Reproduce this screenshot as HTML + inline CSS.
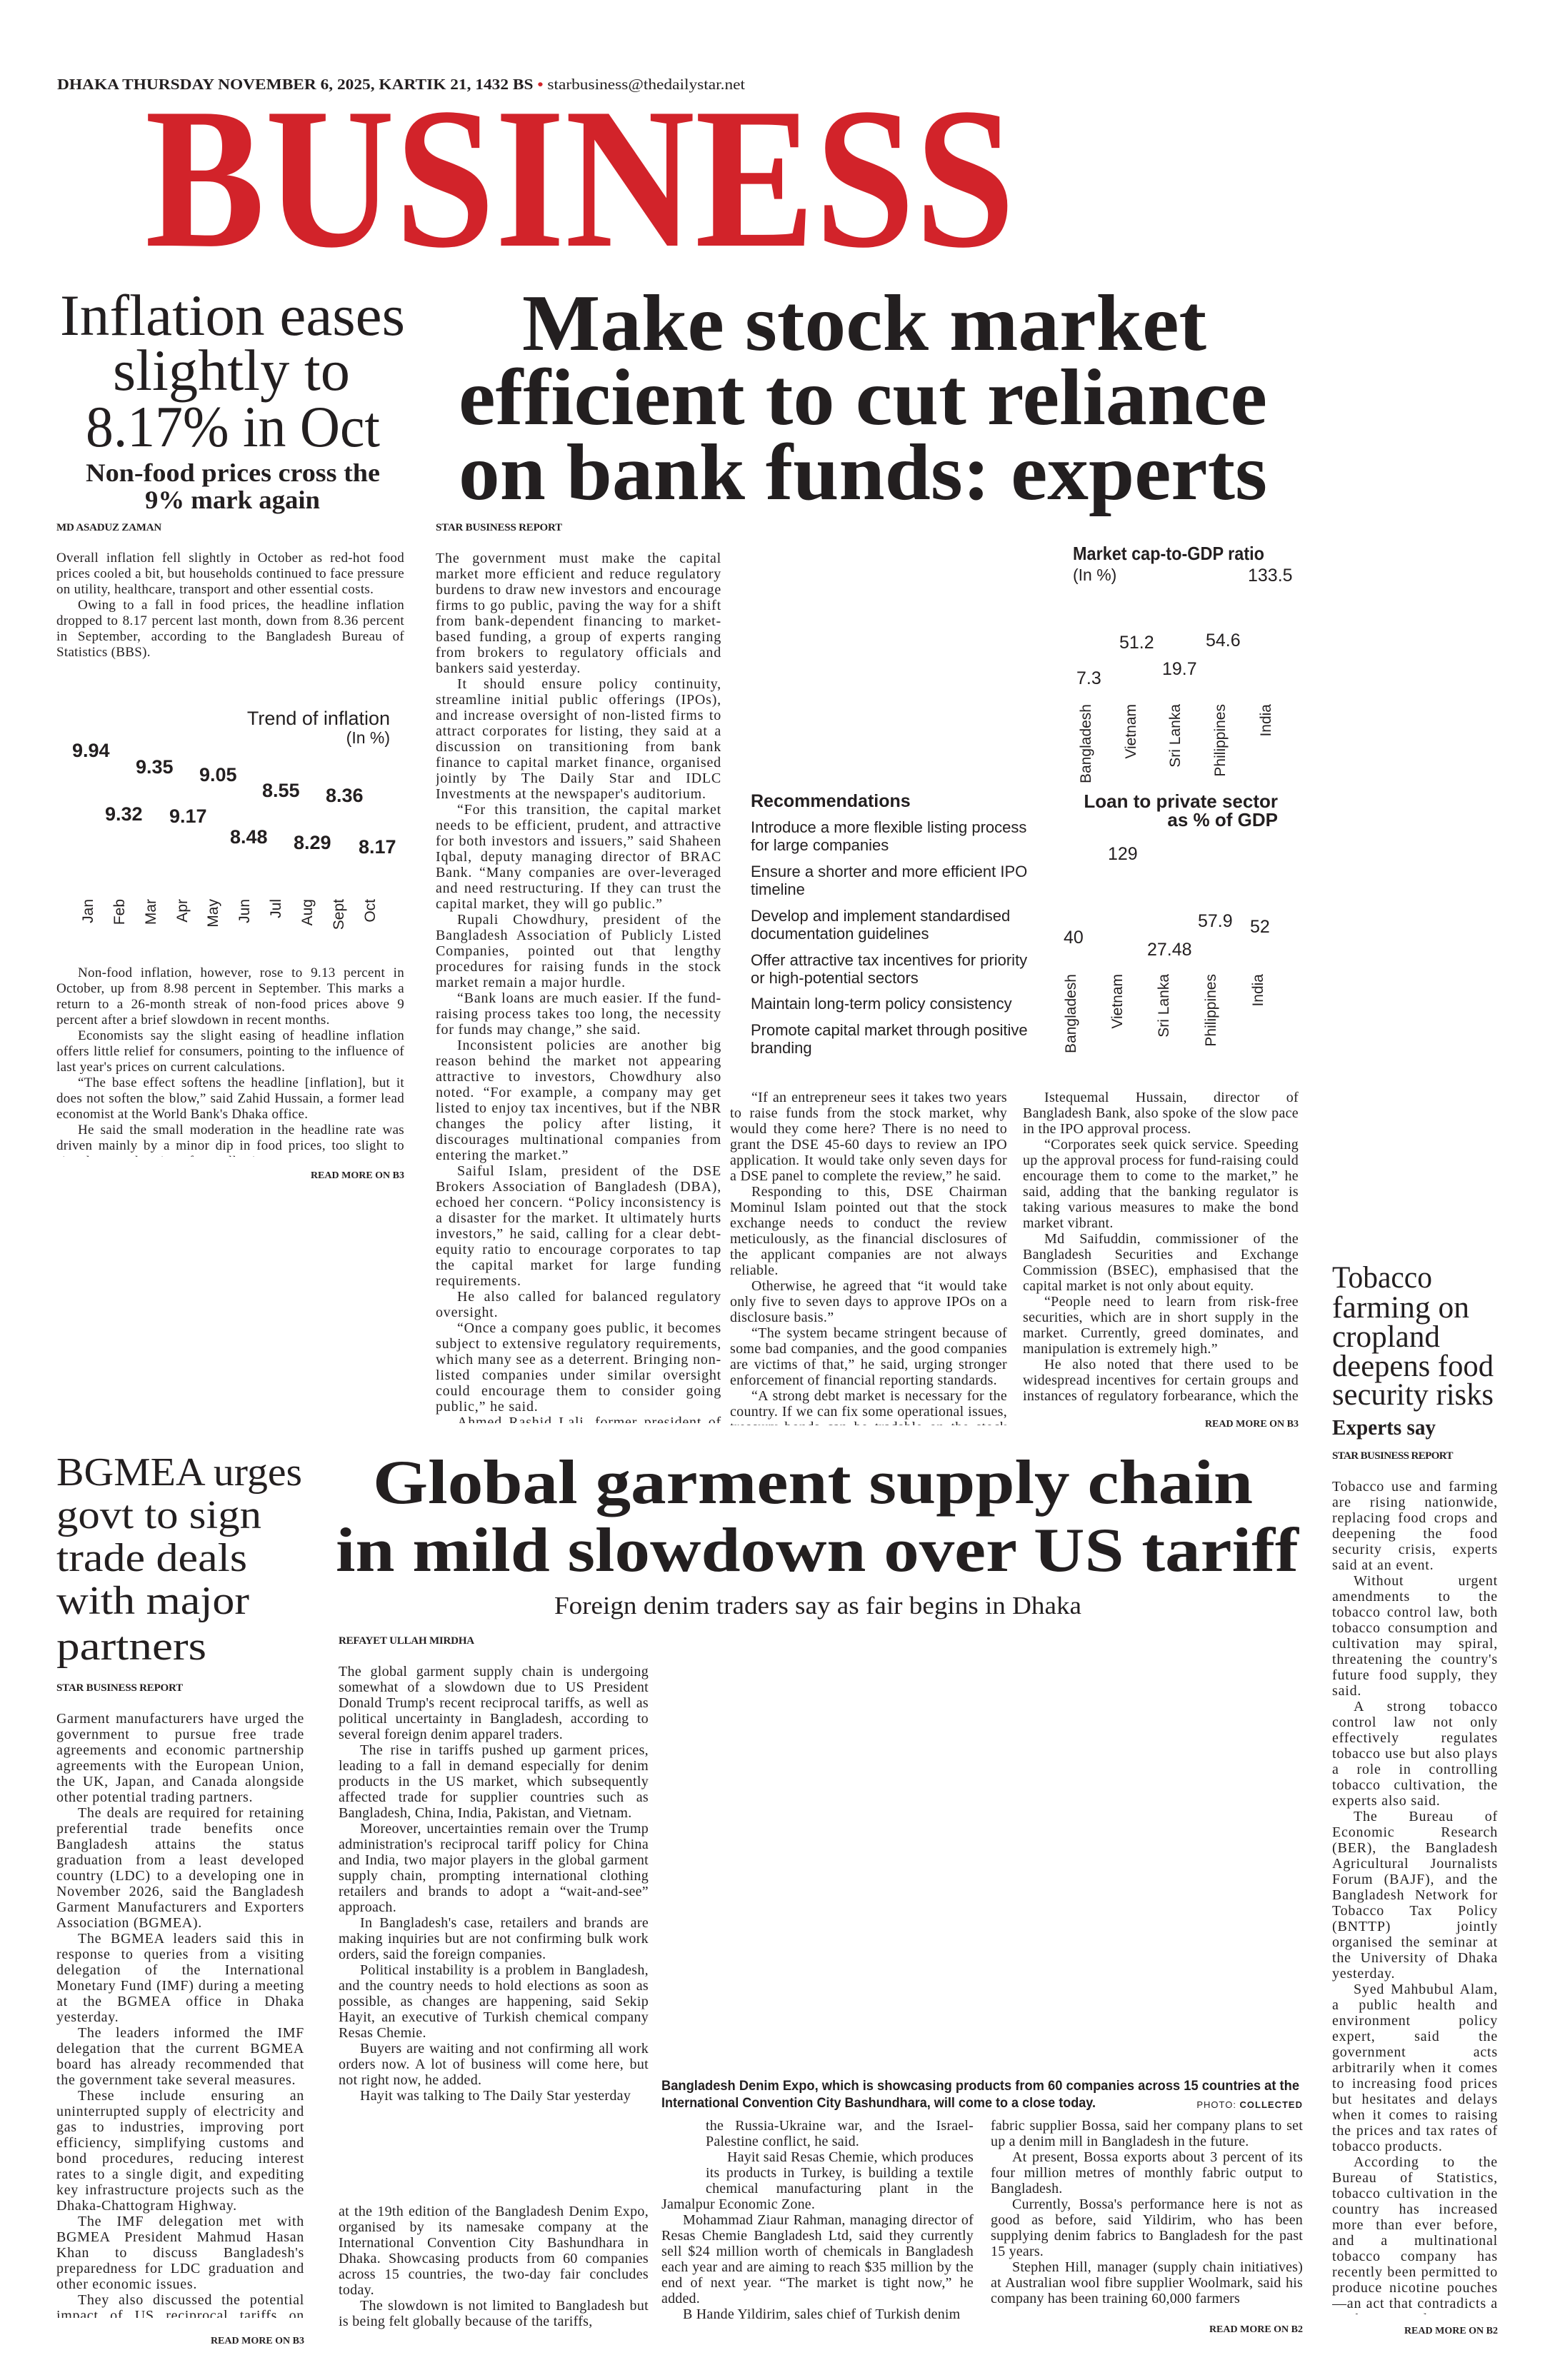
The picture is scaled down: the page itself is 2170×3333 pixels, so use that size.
<!DOCTYPE html>
<html><head><meta charset="utf-8">
<style>
html,body{margin:0;padding:0;background:#fff;}
body{width:2170px;height:3333px;position:relative;overflow:hidden;color:#231f20;font-family:"Liberation Serif",serif;}
.a{position:absolute;}
.fit{position:absolute;white-space:nowrap;line-height:1;}
.fit span{display:inline-block;transform-origin:0 0;}
.txt{position:absolute;font-family:"Liberation Serif",serif;font-size:20px;line-height:22px;text-align:justify;overflow:hidden;color:#231f20;}
.txt p{margin:0;text-indent:30px;}
.txt p.ni{text-indent:0;}
.by{position:absolute;font-family:"Liberation Serif",serif;font-weight:bold;font-size:15px;line-height:1;letter-spacing:-0.2px;}
.rm{position:absolute;font-family:"Liberation Serif",serif;font-weight:bold;font-size:14px;line-height:1;text-align:right;}
.sn{font-family:"Liberation Sans Narrow","Liberation Sans",sans-serif;}
.num{position:absolute;font-family:"Liberation Sans Narrow","Liberation Sans",sans-serif;font-weight:bold;font-size:27px;line-height:1;}
.cn{position:absolute;font-family:"Liberation Sans Narrow","Liberation Sans",sans-serif;font-size:25px;line-height:1;}
.vt{position:absolute;writing-mode:vertical-rl;transform:rotate(180deg);font-family:"Liberation Sans",sans-serif;font-size:21px;line-height:1;}
.rec{position:absolute;left:1051px;width:400px;font-family:"Liberation Sans Narrow","Liberation Sans",sans-serif;font-size:22px;line-height:25px;}
</style></head><body>

<div class="fit" style="left:80px;top:108px;width:963px;font-size:21px;font-weight:bold;"><span>DHAKA THURSDAY NOVEMBER 6, 2025, KARTIK 21, 1432 BS <b style="color:#d2232a">•</b> <span style="font-weight:normal;display:inline">starbusiness@thedailystar.net</span></span></div>
<div class="fit" style="left:203px;top:108px;width:1218px;font-size:282px;font-weight:bold;color:#d2232a;"><span>BUSINESS</span></div>

<div class="fit" style="left:84px;top:401px;width:483px;font-size:82px;"><span>Inflation eases</span></div>
<div class="fit" style="left:158px;top:478px;width:332px;font-size:82px;"><span>slightly to</span></div>
<div class="fit" style="left:120px;top:557px;width:412px;font-size:82px;"><span>8.17% in Oct</span></div>
<div class="fit" style="left:120px;top:644px;width:412px;font-size:36px;font-weight:bold;"><span>Non-food prices cross the</span></div>
<div class="fit" style="left:203px;top:682px;width:245px;font-size:36px;font-weight:bold;"><span>9% mark again</span></div>

<div class="fit" style="left:731px;top:397px;width:958px;font-size:112px;font-weight:bold;"><span>Make stock market</span></div>
<div class="fit" style="left:642px;top:501px;width:1132px;font-size:112px;font-weight:bold;"><span>efficient to cut reliance</span></div>
<div class="fit" style="left:642px;top:606px;width:1132px;font-size:112px;font-weight:bold;"><span>on bank funds: experts</span></div>

<div class="by" style="left:79px;top:732px;">MD ASADUZ ZAMAN</div>
<div class="txt" style="left:79px;top:771px;width:487px;height:180px;font-size:19px;letter-spacing:0.3px;">
<p class="ni">Overall inflation fell slightly in October as red-hot food prices cooled a bit, but households continued to face pressure on utility, healthcare, transport and other essential costs.</p>
<p>Owing to a fall in food prices, the headline inflation dropped to 8.17 percent last month, down from 8.36 percent in September, according to the Bangladesh Bureau of Statistics (BBS).</p>
</div>
<div class="cn" style="left:330px;top:993px;width:216px;text-align:right;font-size:27px;">Trend of inflation</div>
<div class="cn" style="left:430px;top:1022px;width:116px;text-align:right;font-size:23px;">(In %)</div>
<div class="num" style="left:101px;top:1038px;">9.94</div>
<div class="num" style="left:147px;top:1127px;">9.32</div>
<div class="num" style="left:190px;top:1061px;">9.35</div>
<div class="num" style="left:237px;top:1130px;">9.17</div>
<div class="num" style="left:279px;top:1072px;">9.05</div>
<div class="num" style="left:322px;top:1159px;">8.48</div>
<div class="num" style="left:367px;top:1094px;">8.55</div>
<div class="num" style="left:411px;top:1167px;">8.29</div>
<div class="num" style="left:456px;top:1101px;">8.36</div>
<div class="num" style="left:502px;top:1173px;">8.17</div>
<div class="vt" style="left:113px;top:1259px;">Jan</div>
<div class="vt" style="left:157px;top:1259px;">Feb</div>
<div class="vt" style="left:201px;top:1259px;">Mar</div>
<div class="vt" style="left:245px;top:1259px;">Apr</div>
<div class="vt" style="left:288px;top:1259px;">May</div>
<div class="vt" style="left:332px;top:1259px;">Jun</div>
<div class="vt" style="left:376px;top:1259px;">Jul</div>
<div class="vt" style="left:420px;top:1259px;">Aug</div>
<div class="vt" style="left:464px;top:1259px;">Sept</div>
<div class="vt" style="left:508px;top:1259px;">Oct</div>
<div class="txt" style="left:79px;top:1352px;width:487px;height:268px;font-size:19px;letter-spacing:0.3px;">
<p>Non-food inflation, however, rose to 9.13 percent in October, up from 8.98 percent in September. This marks a return to a 26-month streak of non-food prices above 9 percent after a brief slowdown in recent months.</p>
<p>Economists say the slight easing of headline inflation offers little relief for consumers, pointing to the influence of last year's prices on current calculations.</p>
<p>“The base effect softens the headline [inflation], but it does not soften the blow,” said Zahid Hussain, a former lead economist at the World Bank's Dhaka office.</p>
<p>He said the small moderation in the headline rate was driven mainly by a minor dip in food prices, too slight to signal any real easing of overall price pressures.</p>
</div>
<div class="rm" style="left:366px;top:1640px;width:200px;">READ MORE ON B3</div>

<div class="by" style="left:610px;top:732px;">STAR BUSINESS REPORT</div>
<div class="txt" style="left:610px;top:771px;width:400px;height:1222px;letter-spacing:0.8px;">
<p class="ni">The government must make the capital market more efficient and reduce regulatory burdens to draw new investors and encourage firms to go public, paving the way for a shift from bank-dependent financing to market-based funding, a group of experts ranging from brokers to regulatory officials and bankers said yesterday.</p>
<p>It should ensure policy continuity, streamline initial public offerings (IPOs), and increase oversight of non-listed firms to attract corporates for listing, they said at a discussion on transitioning from bank finance to capital market finance, organised jointly by The Daily Star and IDLC Investments at the newspaper's auditorium.</p>
<p>“For this transition, the capital market needs to be efficient, prudent, and attractive for both investors and issuers,” said Shaheen Iqbal, deputy managing director of BRAC Bank. “Many companies are over-leveraged and need restructuring. If they can trust the capital market, they will go public.”</p>
<p>Rupali Chowdhury, president of the Bangladesh Association of Publicly Listed Companies, pointed out that lengthy procedures for raising funds in the stock market remain a major hurdle.</p>
<p>“Bank loans are much easier. If the fund-raising process takes too long, the necessity for funds may change,” she said.</p>
<p>Inconsistent policies are another big reason behind the market not appearing attractive to investors, Chowdhury also noted. “For example, a company may get listed to enjoy tax incentives, but if the NBR changes the policy after listing, it discourages multinational companies from entering the market.”</p>
<p>Saiful Islam, president of the DSE Brokers Association of Bangladesh (DBA), echoed her concern. “Policy inconsistency is a disaster for the market. It ultimately hurts investors,” he said, calling for a clear debt-equity ratio to encourage corporates to tap the capital market for large funding requirements.</p>
<p>He also called for balanced regulatory oversight.</p>
<p>“Once a company goes public, it becomes subject to extensive regulatory requirements, which many see as a deterrent. Bringing non-listed companies under similar oversight could encourage them to consider going public,” he said.</p>
<p>Ahmed Rashid Lali, former president of the DBA, said the lengthy IPO process is a key impediment.</p>
</div>

<div class="fit sn" style="left:1502px;top:762px;width:268px;font-size:26px;font-weight:bold;"><span>Market cap-to-GDP ratio</span></div>
<div class="cn" style="left:1502px;top:794px;font-size:23px;">(In %)</div>
<div class="cn" style="left:1747px;top:794px;">133.5</div>
<div class="cn" style="left:1567px;top:888px;">51.2</div>
<div class="cn" style="left:1688px;top:885px;">54.6</div>
<div class="cn" style="left:1627px;top:925px;">19.7</div>
<div class="cn" style="left:1507px;top:938px;">7.3</div>
<div class="vt" style="left:1510px;top:986px;">Bangladesh</div>
<div class="vt" style="left:1573px;top:986px;">Vietnam</div>
<div class="vt" style="left:1635px;top:986px;">Sri Lanka</div>
<div class="vt" style="left:1698px;top:986px;">Philippines</div>
<div class="vt" style="left:1762px;top:986px;">India</div>

<div class="sn a" style="left:1051px;top:1110px;font-size:25px;font-weight:bold;line-height:1;">Recommendations</div>
<div class="rec" style="top:1146px;">Introduce a more flexible listing process for large companies</div>
<div class="rec" style="top:1208px;">Ensure a shorter and more efficient IPO timeline</div>
<div class="rec" style="top:1270px;">Develop and implement standardised documentation guidelines</div>
<div class="rec" style="top:1332px;">Offer attractive tax incentives for priority or high-potential sectors</div>
<div class="rec" style="top:1393px;">Maintain long-term policy consistency</div>
<div class="rec" style="top:1430px;">Promote capital market through positive branding</div>

<div class="sn a" style="left:1490px;top:1109px;width:299px;text-align:right;font-size:26px;font-weight:bold;line-height:26px;">Loan to private sector<br>as % of GDP</div>
<div class="cn" style="left:1551px;top:1184px;">129</div>
<div class="cn" style="left:1489px;top:1301px;">40</div>
<div class="cn" style="left:1606px;top:1318px;">27.48</div>
<div class="cn" style="left:1677px;top:1278px;">57.9</div>
<div class="cn" style="left:1750px;top:1286px;">52</div>
<div class="vt" style="left:1489px;top:1364px;">Bangladesh</div>
<div class="vt" style="left:1554px;top:1364px;">Vietnam</div>
<div class="vt" style="left:1619px;top:1364px;">Sri Lanka</div>
<div class="vt" style="left:1685px;top:1364px;">Philippines</div>
<div class="vt" style="left:1751px;top:1364px;">India</div>

<div class="txt" style="left:1022px;top:1526px;width:388px;height:470px;letter-spacing:0.3px;">
<p>“If an entrepreneur sees it takes two years to raise funds from the stock market, why would they come here? There is no need to grant the DSE 45-60 days to review an IPO application. It would take only seven days for a DSE panel to complete the review,” he said.</p>
<p>Responding to this, DSE Chairman Mominul Islam pointed out that the stock exchange needs to conduct the review meticulously, as the financial disclosures of the applicant companies are not always reliable.</p>
<p>Otherwise, he agreed that “it would take only five to seven days to approve IPOs on a disclosure basis.”</p>
<p>“The system became stringent because of some bad companies, and the good companies are victims of that,” he said, urging stronger enforcement of financial reporting standards.</p>
<p>“A strong debt market is necessary for the country. If we can fix some operational issues, treasury bonds can be tradable on the stock exchange,” he added.</p>
</div>
<div class="txt" style="left:1432px;top:1526px;width:386px;height:440px;letter-spacing:0.3px;">
<p>Istequemal Hussain, director of Bangladesh Bank, also spoke of the slow pace in the IPO approval process.</p>
<p>“Corporates seek quick service. Speeding up the approval process for fund-raising could encourage them to come to the market,” he said, adding that the banking regulator is taking various measures to make the bond market vibrant.</p>
<p>Md Saifuddin, commissioner of the Bangladesh Securities and Exchange Commission (BSEC), emphasised that the capital market is not only about equity.</p>
<p>“People need to learn from risk-free securities, which are in short supply in the market. Currently, greed dominates, and manipulation is extremely high.”</p>
<p>He also noted that there used to be widespread incentives for certain groups and instances of regulatory forbearance, which the BSEC is now addressing.</p>
</div>
<div class="rm" style="left:1618px;top:1988px;width:200px;">READ MORE ON B3</div>

<div class="fit" style="left:1865px;top:1768px;width:140px;font-size:43px;"><span>Tobacco</span></div>
<div class="fit" style="left:1865px;top:1810px;width:192px;font-size:43px;"><span>farming on</span></div>
<div class="fit" style="left:1865px;top:1851px;width:151px;font-size:43px;"><span>cropland</span></div>
<div class="fit" style="left:1865px;top:1892px;width:226px;font-size:43px;"><span>deepens food</span></div>
<div class="fit" style="left:1865px;top:1932px;width:226px;font-size:43px;"><span>security risks</span></div>
<div class="fit" style="left:1865px;top:1983px;width:145px;font-size:31px;font-weight:bold;"><span>Experts say</span></div>
<div class="by" style="left:1865px;top:2032px;letter-spacing:-0.6px;">STAR BUSINESS REPORT</div>
<div class="txt" style="left:1865px;top:2071px;width:232px;height:1170px;letter-spacing:0.8px;">
<p class="ni">Tobacco use and farming are rising nationwide, replacing food crops and deepening the food security crisis, experts said at an event.</p>
<p>Without urgent amendments to the tobacco control law, both tobacco consumption and cultivation may spiral, threatening the country's future food supply, they said.</p>
<p>A strong tobacco control law not only effectively regulates tobacco use but also plays a role in controlling tobacco cultivation, the experts also said.</p>
<p>The Bureau of Economic Research (BER), the Bangladesh Agricultural Journalists Forum (BAJF), and the Bangladesh Network for Tobacco Tax Policy (BNTTP) jointly organised the seminar at the University of Dhaka yesterday.</p>
<p>Syed Mahbubul Alam, a public health and environment policy expert, said the government acts arbitrarily when it comes to increasing food prices but hesitates and delays when it comes to raising the prices and tax rates of tobacco products.</p>
<p>According to the Bureau of Statistics, tobacco cultivation in the country has increased more than ever before, and a multinational tobacco company has recently been permitted to produce nicotine pouches—an act that contradicts a High Court order.</p>
<p>He warned that this decision could have dire</p>
</div>
<div class="rm" style="left:1897px;top:3258px;width:200px;">READ MORE ON B2</div>

<div class="fit" style="left:79px;top:2034px;width:344px;font-size:56px;"><span>BGMEA urges</span></div>
<div class="fit" style="left:79px;top:2094px;width:287px;font-size:56px;"><span>govt to sign</span></div>
<div class="fit" style="left:79px;top:2154px;width:267px;font-size:56px;"><span>trade deals</span></div>
<div class="fit" style="left:79px;top:2214px;width:270px;font-size:56px;"><span>with major</span></div>
<div class="fit" style="left:79px;top:2278px;width:210px;font-size:56px;"><span>partners</span></div>
<div class="by" style="left:79px;top:2357px;">STAR BUSINESS REPORT</div>
<div class="txt" style="left:79px;top:2396px;width:347px;height:850px;letter-spacing:0.7px;">
<p class="ni">Garment manufacturers have urged the government to pursue free trade agreements and economic partnership agreements with the European Union, the UK, Japan, and Canada alongside other potential trading partners.</p>
<p>The deals are required for retaining preferential trade benefits once Bangladesh attains the status graduation from a least developed country (LDC) to a developing one in November 2026, said the Bangladesh Garment Manufacturers and Exporters Association (BGMEA).</p>
<p>The BGMEA leaders said this in response to queries from a visiting delegation of the International Monetary Fund (IMF) during a meeting at the BGMEA office in Dhaka yesterday.</p>
<p>The leaders informed the IMF delegation that the current BGMEA board has already recommended that the government take several measures.</p>
<p>These include ensuring an uninterrupted supply of electricity and gas to industries, improving port efficiency, simplifying customs and bond procedures, reducing interest rates to a single digit, and expediting key infrastructure projects such as the Dhaka-Chattogram Highway.</p>
<p>The IMF delegation met with BGMEA President Mahmud Hasan Khan to discuss Bangladesh's preparedness for LDC graduation and other economic issues.</p>
<p>They also discussed the potential impact of US reciprocal tariffs on garment exports, the implications of LDC graduation, strategies for sustainable</p>
</div>
<div class="rm" style="left:226px;top:3272px;width:200px;">READ MORE ON B3</div>

<div class="fit" style="left:522px;top:2033px;width:1232px;font-size:88px;font-weight:bold;"><span>Global garment supply chain</span></div>
<div class="fit" style="left:470px;top:2128px;width:1348px;font-size:88px;font-weight:bold;"><span>in mild slowdown over US tariff</span></div>
<div class="fit" style="left:776px;top:2231px;width:738px;font-size:35px;"><span>Foreign denim traders say as fair begins in Dhaka</span></div>
<div class="by" style="left:474px;top:2291px;">REFAYET ULLAH MIRDHA</div>
<div class="txt" style="left:474px;top:2330px;width:434px;height:624px;letter-spacing:0.3px;">
<p class="ni">The global garment supply chain is undergoing somewhat of a slowdown due to US President Donald Trump's recent reciprocal tariffs, as well as political uncertainty in Bangladesh, according to several foreign denim apparel traders.</p>
<p>The rise in tariffs pushed up garment prices, leading to a fall in demand especially for denim products in the US market, which subsequently affected trade for supplier countries such as Bangladesh, China, India, Pakistan, and Vietnam.</p>
<p>Moreover, uncertainties remain over the Trump administration's reciprocal tariff policy for China and India, two major players in the global garment supply chain, prompting international clothing retailers and brands to adopt a “wait-and-see” approach.</p>
<p>In Bangladesh's case, retailers and brands are making inquiries but are not confirming bulk work orders, said the foreign companies.</p>
<p>Political instability is a problem in Bangladesh, and the country needs to hold elections as soon as possible, as changes are happening, said Sekip Hayit, an executive of Turkish chemical company Resas Chemie.</p>
<p>Buyers are waiting and not confirming all work orders now. A lot of business will come here, but not right now, he added.</p>
<p>Hayit was talking to The Daily Star yesterday</p>
</div>
<div class="txt" style="left:474px;top:3086px;width:434px;height:176px;letter-spacing:0.3px;">
<p class="ni">at the 19th edition of the Bangladesh Denim Expo, organised by its namesake company at the International Convention City Bashundhara in Dhaka. Showcasing products from 60 companies across 15 countries, the two-day fair concludes today.</p>
<p>The slowdown is not limited to Bangladesh but is being felt globally because of the tariffs,</p>
</div>
<div class="fit" style="left:926px;top:2912px;width:893px;font-family:'Liberation Sans',sans-serif;font-weight:bold;font-size:19px;"><span>Bangladesh Denim Expo, which is showcasing products from 60 companies across 15 countries at the</span></div>
<div class="fit" style="left:926px;top:2936px;width:608px;font-family:'Liberation Sans',sans-serif;font-weight:bold;font-size:19px;"><span>International Convention City Bashundhara, will come to a close today.</span></div>
<div class="a" style="left:1624px;top:2941px;width:200px;text-align:right;font-family:'Liberation Sans',sans-serif;font-size:13px;line-height:1;letter-spacing:1px;">PHOTO: <b>COLLECTED</b></div>
<div class="txt" style="left:926px;top:2966px;width:437px;height:300px;letter-spacing:0.2px;">
<div style="float:left;width:62px;height:110px;"></div>
<p class="ni">the Russia-Ukraine war, and the Israel-Palestine conflict, he said.</p>
<p>Hayit said Resas Chemie, which produces its products in Turkey, is building a textile chemical manufacturing plant in the Jamalpur Economic Zone.</p>
<p>Mohammad Ziaur Rahman, managing director of Resas Chemie Bangladesh Ltd, said they currently sell $24 million worth of chemicals in Bangladesh each year and are aiming to reach $35 million by the end of next year. “The market is tight now,” he added.</p>
<p>B Hande Yildirim, sales chief of Turkish denim</p>
</div>
<div class="txt" style="left:1387px;top:2966px;width:437px;height:286px;letter-spacing:0.2px;">
<p class="ni">fabric supplier Bossa, said her company plans to set up a denim mill in Bangladesh in the future.</p>
<p>At present, Bossa exports about 3 percent of its four million metres of monthly fabric output to Bangladesh.</p>
<p>Currently, Bossa's performance here is not as good as before, said Yildirim, who has been supplying denim fabrics to Bangladesh for the past 15 years.</p>
<p>Stephen Hill, manager (supply chain initiatives) at Australian wool fibre supplier Woolmark, said his company has been training 60,000 farmers</p>
</div>
<div class="rm" style="left:1624px;top:3256px;width:200px;">READ MORE ON B2</div>

<script>
document.querySelectorAll('.fit').forEach(function(el){
  var s=el.querySelector('span'); if(!s) return;
  var w=parseFloat(el.style.width); var n=s.getBoundingClientRect().width;
  if(w&&n) s.style.transform='scaleX('+(w/n)+')';
});
</script>
</body></html>
